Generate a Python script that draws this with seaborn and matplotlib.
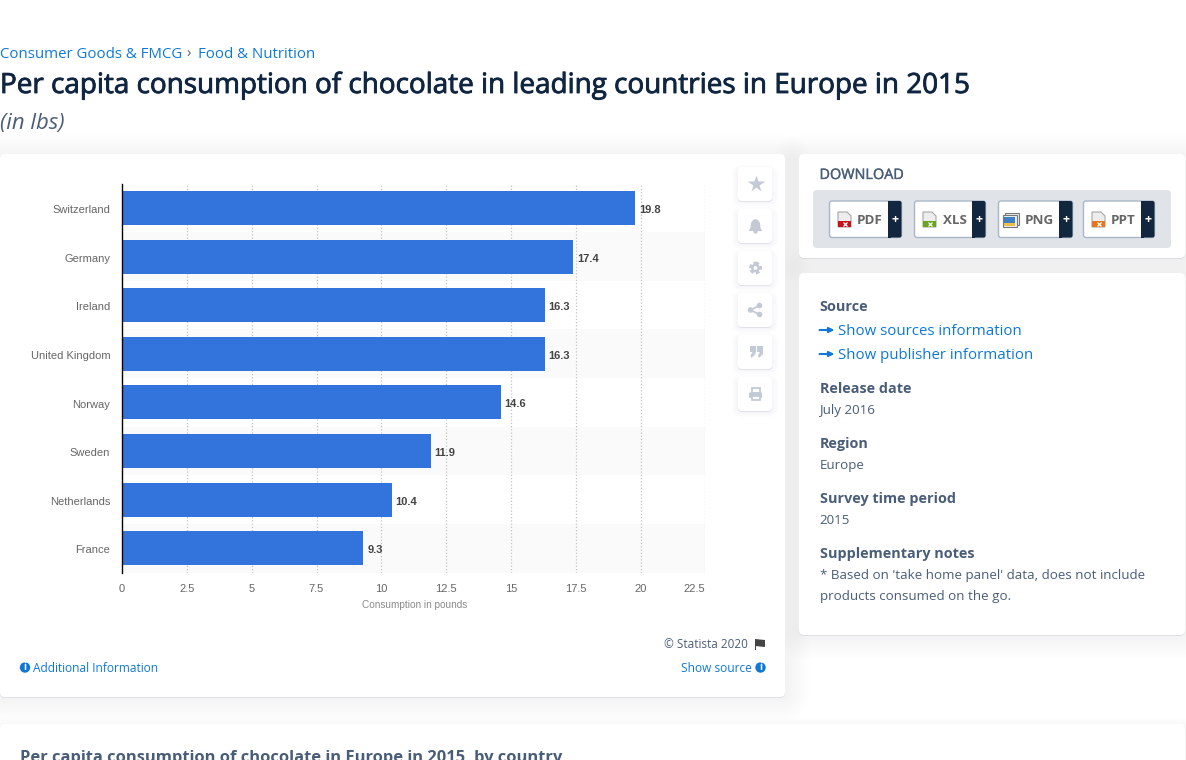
import matplotlib
matplotlib.use('Agg')
import matplotlib.pyplot as plt
import matplotlib.patheffects as pe
from matplotlib.patches import FancyBboxPatch, Rectangle, Circle, Polygon
from matplotlib.transforms import ScaledTranslation
import seaborn as sns

# Chart data
countries = ['Switzerland', 'Germany', 'Ireland', 'United Kingdom', 'Norway', 'Sweden', 'Netherlands', 'France']
consumption = [19.8, 17.4, 16.3, 16.3, 14.6, 11.9, 10.4, 9.3]
x_ticks = [0, 2.5, 5, 7.5, 10, 12.5, 15, 17.5, 20, 22.5]
x_tick_labels = ['0', '2.5', '5', '7.5', '10', '12.5', '15', '17.5', '20', '22.5']

# Page text
title = 'Per capita consumption of chocolate in leading countries in Europe in 2015'
subtitle = '(in lbs)'
download_types = ['PDF', 'XLS', 'PNG', 'PPT']
download_colors = ['#c8101a', '#6aa31e', '#3f7fc4', '#e8761e']

sns.set_theme(style='white')
plt.rcParams['font.family'] = ['Open Sans', 'DejaVu Sans']

W, H = 1186, 760
fig = plt.figure(figsize=(W / 100, H / 100), dpi=100, facecolor='white')

# background layer in pixel coordinates
bg = fig.add_axes([0, 0, 1, 1], zorder=0)
bg.set_xlim(0, W)
bg.set_ylim(H, 0)
bg.axis('off')


def card(x0, y0, x1, y1, color='white', r=5, shadow=24, z=2, edge='none'):
    # soft wide shadow, built from stacked translucent boxes
    if shadow:
        for grow in range(shadow, 0, -2):
            bg.add_patch(FancyBboxPatch((x0 - grow, y0 - grow + 4), x1 - x0 + 2 * grow, y1 - y0 + 2 * grow - 4,
                                        boxstyle=f'round,pad=0,rounding_size={r + grow}',
                                        fc='#2a3f5f', ec='none', alpha=0.0028 * 24 / shadow, zorder=z - 1))
        bg.add_patch(FancyBboxPatch((x0, y0 + 1), x1 - x0, y1 - y0, boxstyle=f'round,pad=0,rounding_size={r}',
                                    fc='#2a3f5f', ec='none', alpha=0.1, zorder=z - 0.5))
    bg.add_patch(FancyBboxPatch((x0, y0), x1 - x0, y1 - y0, boxstyle=f'round,pad=0,rounding_size={r}',
                                fc=color, ec=edge, lw=1, zorder=z))


def label(x, y, s, size, color, weight='normal', ha='left', style='normal', family=None, z=6, stroke=0):
    t = bg.text(x, y + 1, s, fontsize=size, color=color, fontweight=weight, ha=ha, va='center',
                fontstyle=style, family=family or ['Open Sans', 'DejaVu Sans'], zorder=z)
    if stroke:
        t.set_path_effects([pe.withStroke(linewidth=stroke, foreground=color)])
    return t


LINK = '#0f78d6'
SLATE = '#4a5d78'
NAVY = '#0f2540'

# header
label(0, 53.5, 'Consumer Goods & FMCG', 10.8, LINK)
label(186, 53.5, '›', 10.8, SLATE)
label(198, 53.5, 'Food & Nutrition', 10.8, LINK)
label(0, 85, title, 20.06, NAVY, stroke=0.6)
label(0, 123, subtitle, 15.9, SLATE, style='italic')

# cards
card(0, 154, 785, 697)
card(799, 154, 1185, 258)
card(799, 273, 1185, 635)
card(0, 724, W - 1, 800, shadow=10)

# chart footer
label(748, 643.5, '© Statista 2020', 8.5, SLATE, ha='right')
bg.add_patch(Rectangle((754.5, 639), 1, 11, fc='#444444', ec='none', zorder=6))
bg.add_patch(Polygon([(755, 639), (765, 640), (765, 647), (755, 646)], fc='#444444', ec='none', zorder=6))
bg.add_patch(Circle((25, 667.5), 5.2, fc=LINK, ec='none', zorder=6))
label(25, 666.5, 'i', 7, 'white', weight='bold', ha='center', z=7)
label(33, 667.5, 'Additional Information', 8.6, LINK)
label(752, 667.5, 'Show source', 8.6, LINK, ha='right')
bg.add_patch(Circle((760.5, 667.5), 5.2, fc=LINK, ec='none', zorder=6))
label(760.5, 666.5, 'i', 7, 'white', weight='bold', ha='center', z=7)

# side buttons
for yc in [184, 226, 268, 310, 352, 394]:
    card(738, yc - 17, 772, yc + 17, r=4, z=4, shadow=6)
ICON = '#c3cad6'
# star
bg.plot([755.5], [183.5], marker='*', ms=13, color=ICON, mec='none', zorder=6)
# bell
bg.add_patch(Polygon([(748.5, 231), (750.5, 228), (751, 223), (753, 220), (755.5, 219), (758, 220),
                      (760, 223), (760.5, 228), (762.5, 231)], fc=ICON, ec='none', zorder=6))
bg.add_patch(Circle((755.5, 231.5), 2.2, fc=ICON, ec='none', zorder=5.5))
# gear
bg.add_patch(Circle((755.5, 268), 4.6, fc='none', ec=ICON, lw=2.6, ls=(0, (0.9, 0.6)), zorder=6))
bg.add_patch(Circle((755.5, 268), 4.4, fc=ICON, ec='none', zorder=6))
bg.add_patch(Circle((755.5, 268), 1.9, fc='white', ec='none', zorder=7))
# share
for cx, cy in [(750.5, 310), (759.5, 305.5), (759.5, 314.5)]:
    bg.add_patch(Circle((cx, cy), 2.8, fc=ICON, ec='none', zorder=6))
bg.plot([750.5, 759.5], [310, 305.5], color=ICON, lw=1.3, zorder=6)
bg.plot([750.5, 759.5], [310, 314.5], color=ICON, lw=1.3, zorder=6)
# quotes
for qx in [749.5, 757]:
    bg.add_patch(Rectangle((qx, 346), 6, 6, fc=ICON, ec='none', zorder=6))
    bg.add_patch(Polygon([(qx + 6, 351), (qx + 6, 354), (qx + 2, 358), (qx + 1, 355.5), (qx + 3, 352)],
                         fc=ICON, ec='none', zorder=6))
# printer
bg.add_patch(Rectangle((751.5, 387.5), 8, 5, fc='white', ec=ICON, lw=1.3, zorder=6))
bg.add_patch(FancyBboxPatch((749, 392.5), 13, 5.5, boxstyle='round,pad=0,rounding_size=1', fc=ICON, ec='none', zorder=6))
bg.add_patch(Rectangle((751.5, 396), 8, 4, fc='white', ec=ICON, lw=1.3, zorder=7))

# download card
label(819.5, 174.5, 'DOWNLOAD', 10.4, SLATE, stroke=0.25)
card(813, 190, 1171, 248, color='#e0e3e8', r=4, shadow=0, z=3)
btn_left = [829.5, 914.5, 998.5, 1083.5]
btn_right = [901.5, 985.5, 1072.5, 1154.5]
btn_dark = [888, 972, 1059, 1141]
for name, col, x0, x1, xd in zip(download_types, download_colors, btn_left, btn_right, btn_dark):
    card(x0, 201, x1, 237.5, r=2.5, shadow=0, z=4, edge='#a9b6c8')
    bg.add_patch(FancyBboxPatch((xd, 201), x1 - xd, 36.5, boxstyle='round,pad=0,rounding_size=2',
                                fc='#12263f', ec='none', zorder=5))
    bg.add_patch(Rectangle((xd, 201), 3, 36.5, fc='#12263f', ec='none', zorder=5))
    label((xd + x1) / 2, 218.5, '+', 9, 'white', weight='bold', ha='center')
    label(xd - 5.5, 219.5, name, 9.6, '#666666', weight='bold', ha='right')
    ix = x0 + 8.5
    if name == 'PNG':
        # stacked picture frames
        bg.add_patch(Rectangle((ix - 2.5, 213), 14, 12, fc='#efefef', ec='#777777', lw=0.8, zorder=6))
        bg.add_patch(Rectangle((ix - 4.5, 215), 14, 12, fc='#efefef', ec='#777777', lw=0.8, zorder=7))
        bg.add_patch(Rectangle((ix - 3, 217), 11, 5.5, fc=col, ec='none', zorder=8))
        bg.add_patch(Rectangle((ix - 3, 222.5), 11, 3, fc='#e8c04a', ec='none', zorder=8))
    else:
        # dog-eared file sheet with coloured lower half
        bg.add_patch(Polygon([(ix, 212), (ix + 9, 212), (ix + 13, 216), (ix + 13, 227), (ix, 227)],
                             fc='#ededed', ec='#a8a8a8', lw=0.8, zorder=6))
        bg.add_patch(Rectangle((ix, 220.5), 13, 6.5, fc=col, ec='none', zorder=7))
        bg.plot([ix + 7], [224], marker='x', ms=3.5, mew=0.9, color='white', zorder=8)

# info card
label(819.5, 306.2, 'Source', 10.4, SLATE, weight='bold')
for yy, txt in [(330, 'Show sources information'), (354, 'Show publisher information')]:
    bg.annotate('', xy=(834.5, yy), xytext=(819.5, yy), zorder=6,
                arrowprops=dict(arrowstyle='-|>,head_width=0.12,head_length=0.25', color=LINK, lw=1.5,
                                shrinkA=0, shrinkB=0))
    label(838, yy + 0.3, txt, 10.8, LINK)
sections = [(388.2, 'Release date', 409.7, 'July 2016'), (443.2, 'Region', 464, 'Europe'),
            (497.8, 'Survey time period', 519, '2015')]
for y1, head, y2, val in sections:
    label(819.5, y1, head, 10.4, SLATE, weight='bold')
    label(819.5, y2, val, 9.6, SLATE)
label(819.5, 553.2, 'Supplementary notes', 10.4, SLATE, weight='bold')
label(819.5, 574.5, "* Based on 'take home panel' data, does not include", 9.6, SLATE)
label(819.5, 595.5, 'products consumed on the go.', 9.6, SLATE)

# next section heading, cut off by the page edge like in the screenshot
label(19.5, 756.5, 'Per capita consumption of chocolate in Europe in 2015, by country', 11.85, SLATE, weight='bold')

# chart axes
ax_left, ax_right, ax_top, ax_bottom = 122, 705.5, 183.6, 572.6
ax = fig.add_axes([ax_left / W, 1 - ax_bottom / H, (ax_right - ax_left) / W, (ax_bottom - ax_top) / H], zorder=3)
ax.patch.set_alpha(0)

sns.barplot(x=consumption, y=countries, color='#3273dc', saturation=1, width=0.7, ax=ax, zorder=3,
            edgecolor='none', linewidth=0)

ax.set_xlim(0, 22.5)
ax.set_ylim(7.5, -0.5)
for i in range(1, len(countries), 2):
    ax.axhspan(i - 0.5, i + 0.5, color='#fafafa', lw=0, zorder=0)
for t in x_ticks[1:]:
    ax.axvline(t, color='#c4c4c4', lw=0.9, ls=(0, (1, 1.6)), zorder=1)

for spine in ['top', 'right', 'bottom']:
    ax.spines[spine].set_visible(False)
ax.spines['left'].set_color('black')
ax.spines['left'].set_linewidth(1)
ax.spines['left'].set_zorder(5)

ax.set_xticks(x_ticks)
ax.set_xticklabels(x_tick_labels)
ax.tick_params(axis='x', length=0, pad=8, labelsize=8, labelcolor='#666666')
ax.tick_params(axis='y', length=0, pad=8.4, labelsize=8, labelcolor='#666666')
for tl in ax.get_xticklabels() + ax.get_yticklabels():
    tl.set_family(['Liberation Sans'])
ax.get_xticklabels()[-1].set_ha('right')
# country names sit about a pixel below the bar centres
for tl in ax.get_yticklabels():
    tl.set_transform(tl.get_transform() + ScaledTranslation(0, -1.2 / 100, fig.dpi_scale_trans))
ax.set_ylabel('')
ax.set_xlabel('Consumption in pounds', fontsize=7.2, color='#8a8a8a', family=['Liberation Sans'], labelpad=4.3)
ax.xaxis.label.set_x(0.502)

for i, v in enumerate(consumption):
    ax.annotate(f'{v}', (v, i), xytext=(4, -2), textcoords='offset pixels', va='center', ha='left',
                fontsize=8, fontweight='bold', color='#444444', family=['Liberation Sans'], zorder=6)

fig.savefig('out.png', dpi=100, facecolor='white')
